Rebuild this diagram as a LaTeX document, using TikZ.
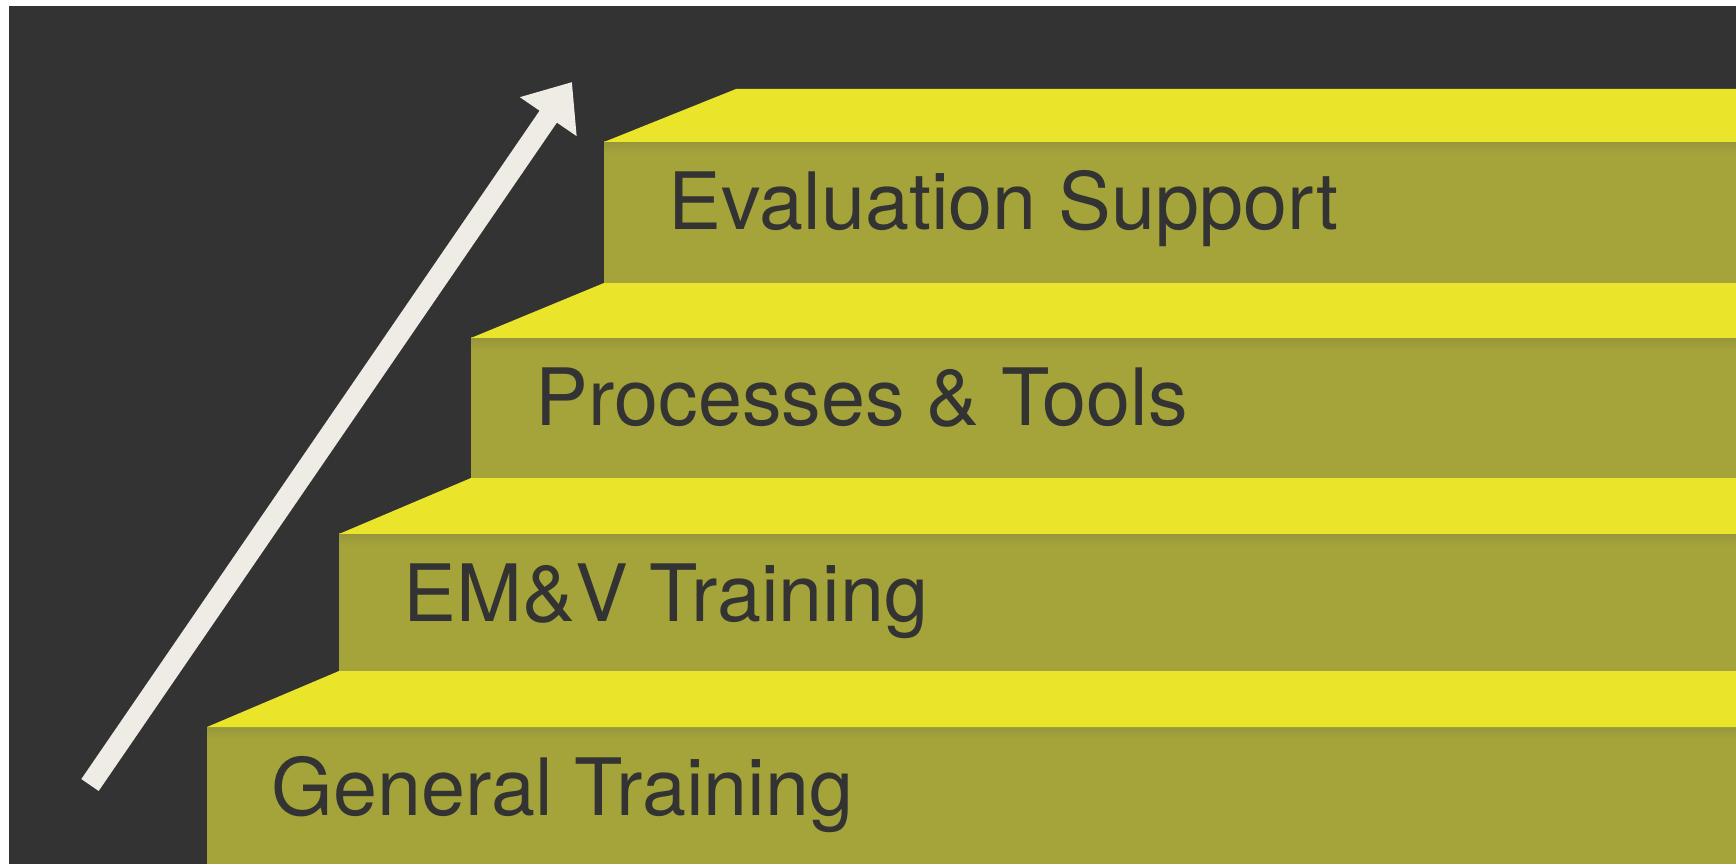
\documentclass[tikz,border=0pt]{standalone}
\usepackage{fontspec}
\setmainfont{TeX Gyre Heros}
\usepackage{xcolor}
\usepackage{tikz}
\usetikzlibrary{arrows.meta,positioning}

\definecolor{stepdark}{HTML}{333333}
\definecolor{stepyellow}{HTML}{EAE52A}
\definecolor{stepolive}{HTML}{A4A43A}
\definecolor{stepshade}{HTML}{97963C}
\definecolor{arrowwhite}{HTML}{EFECE6}

\begin{document}
\begin{tikzpicture}[x=0.01cm, y=-0.01cm,
  tread/.style={fill=stepyellow},
  riser/.style={fill=stepolive},
  rimshade/.style={top color=stepshade, bottom color=stepolive},
  steplabel/.style={anchor=base west, inner sep=0pt, text=stepdark,
    font=\fontsize{22.5}{26}\selectfont}]
\useasboundingbox (0,0) rectangle (1736,864);

% Background
\fill[white] (0,0) rectangle (1736,864);
\fill[stepdark] (9,6) rectangle (1736,864);

% Step 1
\fill[riser] (207,727) rectangle (1736,864);
\shade[rimshade] (207,727) rectangle (1736,739);
\fill[tread] (207,727) -- (339,671) -- (1736,671) -- (1736,727) -- cycle;

% Step 2
\fill[riser] (339,534) rectangle (1736,671);
\shade[rimshade] (339,534) rectangle (1736,546);
\fill[tread] (339,534) -- (471,478) -- (1736,478) -- (1736,534) -- cycle;

% Step 3
\fill[riser] (471,338) rectangle (1736,478);
\shade[rimshade] (471,338) rectangle (1736,350);
\fill[tread] (471,338) -- (604,283) -- (1736,283) -- (1736,338) -- cycle;

% Step 4
\fill[riser] (604,142) rectangle (1736,283);
\shade[rimshade] (604,142) rectangle (1736,154);
\fill[tread] (604,142) -- (736,89) -- (1736,89) -- (1736,142) -- cycle;

% Labels
\node[steplabel] (general) at (271,815) {General Training};
\node[steplabel] (emv) at (403,622) {EM\&V Training};
\node[steplabel] (process) at (535,426) {Processes \& Tools};
\node[steplabel] (evaluation) at (668,230) {Evaluation Support};

% Rising arrow
\coordinate (tail) at (90,785);
\coordinate (tip) at (572,82);
\draw[arrowwhite, line width=0.21cm, -{Triangle[length=0.42cm, width=0.66cm]}] (tail) -- (tip);
\end{tikzpicture}
\end{document}
